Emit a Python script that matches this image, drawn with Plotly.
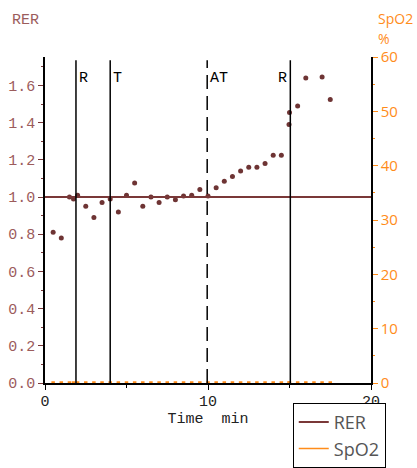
import plotly.graph_objects as go

# ---- data ----
time_min = [0.5, 1.0, 1.5, 1.75, 2.0, 2.5, 3.0, 3.5, 4.0, 4.5, 5.0, 5.5, 6.0, 6.5, 7.0,
            7.5, 8.0, 8.5, 9.0, 9.5, 10.0, 10.5, 11.0, 11.5, 12.0, 12.5, 13.0, 13.5,
            14.0, 14.5, 14.97, 15.0, 15.5, 16.0, 16.5, 17.0, 17.5]
rer = [0.81, 0.78, 1.00, 0.99, 1.01, 0.95, 0.89, 0.97, 0.99, 0.92, 1.01, 1.075, 0.95, 1.00, 0.97,
       1.00, 0.985, 1.005, 1.01, 1.04, 1.005, 1.05, 1.085, 1.11, 1.14, 1.16, 1.16, 1.18,
       1.225, 1.225, 1.39, 1.455, 1.49, 1.64, 1.77, 1.645, 1.525]
spo2 = [0] * len(time_min)
rer_ref = 1.0
event_x = [1.9, 4.0, 9.95, 15.05]
event_labels = ["R", "T", "AT", "R"]
event_dashed = [False, False, True, False]

BROWN = "#7a3838"
BROWN_LIGHT = "#9c5c5c"
ORANGE = "#ff8c1a"
MONO = "Liberation Mono"
SANS = "Open Sans"

fig = go.Figure()

# RER points
fig.add_trace(go.Scatter(x=time_min, y=rer, mode="markers", showlegend=False,
                         marker=dict(color="#6e3434", size=5), cliponaxis=True))
# RER reference line (legend entry)
fig.add_trace(go.Scatter(x=[0, 20], y=[rer_ref, rer_ref], mode="lines", name="RER",
                         line=dict(color=BROWN, width=2)))
# SpO2 values
fig.add_trace(go.Scatter(x=time_min, y=spo2, mode="markers", yaxis="y2", showlegend=False,
                         marker=dict(color=ORANGE, size=3.5, symbol="square"), cliponaxis=False))
fig.add_trace(go.Scatter(x=[None], y=[None], mode="lines", name="SpO2", yaxis="y2",
                         line=dict(color=ORANGE, width=1.5)))

# event lines and labels
for ex, lab, dashed in zip(event_x, event_labels, event_dashed):
    fig.add_shape(type="line", xref="x", yref="paper", x0=ex, x1=ex, y0=0, y1=0.99,
                  line=dict(color="black", width=1.5, dash="14px,7px" if dashed else "solid"))
    right_side = lab != "R" or ex < 10
    fig.add_annotation(x=ex, xref="x", y=0.966, yref="paper", text=lab, showarrow=False,
                       xanchor="left" if right_side else "right",
                       xshift=1 if right_side else -1,
                       font=dict(family=MONO, size=15, color="black"))

# axis titles
fig.add_annotation(x=-0.107, y=1.113, xref="paper", yref="paper", text="RER", showarrow=False,
                   xanchor="left", yanchor="middle", font=dict(family=MONO, size=15, color=BROWN_LIGHT))
fig.add_annotation(x=1.015, y=1.118, xref="paper", yref="paper", text="SpO2", showarrow=False,
                   xanchor="left", yanchor="middle", font=dict(family=SANS, size=14, color=ORANGE))
fig.add_annotation(x=1.015, y=1.057, xref="paper", yref="paper", text="%", showarrow=False,
                   xanchor="left", yanchor="middle", font=dict(family=SANS, size=14, color=ORANGE))

fig.update_layout(
    width=417, height=468,
    margin=dict(l=45, r=46, t=57, b=85, autoexpand=False),
    paper_bgcolor="white", plot_bgcolor="white",
    xaxis=dict(range=[0, 20], showgrid=False, zeroline=False, showline=True, linecolor="black",
               linewidth=1.5, ticks="outside", tickcolor="black", ticklen=5, tickvals=[0, 10, 20],
               tickfont=dict(family=MONO, size=15, color="#222"), ticklabelstandoff=-2,
               minor=dict(tickvals=[5, 15], ticks="outside", ticklen=3, tickcolor="black"),
               title=dict(text="Time  min", font=dict(family=MONO, size=15, color="#222"), standoff=0)),
    yaxis=dict(range=[0, 1.753], showgrid=False, zeroline=False, showline=True, linecolor="black",
               linewidth=1.5, ticks="outside", tickcolor=BROWN, ticklen=5, dtick=0.2, tick0=0,
               tickformat=".1f", tickfont=dict(family=MONO, size=15, color=BROWN_LIGHT),
               minor=dict(dtick=0.1, ticks="outside", ticklen=2, tickcolor=BROWN)),
    yaxis2=dict(range=[0, 60], overlaying="y", side="right", showgrid=False, zeroline=False,
                showline=True, linecolor="black", linewidth=1.5, ticks="outside", tickcolor=ORANGE,
                ticklen=5, dtick=10, tickfont=dict(family=SANS, size=15, color=ORANGE),
                minor=dict(dtick=5, ticks="outside", ticklen=2, tickcolor=ORANGE)),
    legend=dict(x=0.76, y=-0.061, xanchor="left", yanchor="top", bordercolor="black",
                borderwidth=1, bgcolor="white", font=dict(family=SANS, size=18, color="#555"),
                tracegroupgap=0),
    showlegend=True,
)

fig.write_html("out.html", config={"displayModeBar": False},
               post_script="document.body.style.margin='0px';document.body.style.overflow='hidden';")
